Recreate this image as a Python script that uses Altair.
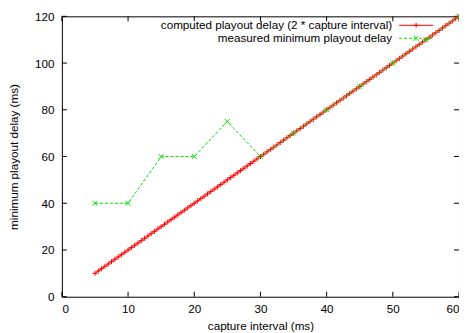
import altair as alt
import pandas as pd

# computed playout delay (2 * capture interval), sampled every 0.5 ms
comp_x = [5.0, 5.5, 6.0, 6.5, 7.0, 7.5, 8.0, 8.5, 9.0, 9.5,
          10.0, 10.5, 11.0, 11.5, 12.0, 12.5, 13.0, 13.5, 14.0, 14.5,
          15.0, 15.5, 16.0, 16.5, 17.0, 17.5, 18.0, 18.5, 19.0, 19.5,
          20.0, 20.5, 21.0, 21.5, 22.0, 22.5, 23.0, 23.5, 24.0, 24.5,
          25.0, 25.5, 26.0, 26.5, 27.0, 27.5, 28.0, 28.5, 29.0, 29.5,
          30.0, 30.5, 31.0, 31.5, 32.0, 32.5, 33.0, 33.5, 34.0, 34.5,
          35.0, 35.5, 36.0, 36.5, 37.0, 37.5, 38.0, 38.5, 39.0, 39.5,
          40.0, 40.5, 41.0, 41.5, 42.0, 42.5, 43.0, 43.5, 44.0, 44.5,
          45.0, 45.5, 46.0, 46.5, 47.0, 47.5, 48.0, 48.5, 49.0, 49.5,
          50.0, 50.5, 51.0, 51.5, 52.0, 52.5, 53.0, 53.5, 54.0, 54.5,
          55.0, 55.5, 56.0, 56.5, 57.0, 57.5, 58.0, 58.5, 59.0, 59.5,
          60.0]
comp_y = [10, 11, 12, 13, 14, 15, 16, 17, 18, 19,
          20, 21, 22, 23, 24, 25, 26, 27, 28, 29,
          30, 31, 32, 33, 34, 35, 36, 37, 38, 39,
          40, 41, 42, 43, 44, 45, 46, 47, 48, 49,
          50, 51, 52, 53, 54, 55, 56, 57, 58, 59,
          60, 61, 62, 63, 64, 65, 66, 67, 68, 69,
          70, 71, 72, 73, 74, 75, 76, 77, 78, 79,
          80, 81, 82, 83, 84, 85, 86, 87, 88, 89,
          90, 91, 92, 93, 94, 95, 96, 97, 98, 99,
          100, 101, 102, 103, 104, 105, 106, 107, 108, 109,
          110, 111, 112, 113, 114, 115, 116, 117, 118, 119,
          120]

# measured minimum playout delay
meas_x = [5, 10, 15, 20, 25, 30, 35, 40, 45, 50, 55, 60]
meas_y = [40, 40, 60, 60, 75, 60, 70, 80, 90, 100, 110, 120]

x_ticks = [0, 10, 20, 30, 40, 50, 60]
y_ticks = [0, 20, 40, 60, 80, 100, 120]

legend_labels = ["computed playout delay (2 * capture interval)",
                 "measured minimum playout delay"]

RED = "#ff0000"
GREEN = "#00e000"
FONT = "Liberation Sans"
W, H = 398, 281
PLUS = "M-1,0L1,0M0,-1L0,1"
XSHAPE = "M-1,-1L1,1M-1,1L1,-1"
FS = 11.7

comp = pd.DataFrame({"x": comp_x, "y": comp_y})
meas = pd.DataFrame({"x": meas_x, "y": meas_y})
xt = pd.DataFrame({"x": x_ticks})
yt = pd.DataFrame({"y": y_ticks})
one = pd.DataFrame({"a": [0]})

xscale = alt.Scale(domain=[0, 60], nice=False, zero=False)
yscale = alt.Scale(domain=[0, 120], nice=False, zero=False)

xaxis = alt.Axis(values=x_ticks, ticks=False, grid=False, domain=False,
                 labelPadding=7, title="capture interval (ms)", titlePadding=5,
                 labelFontSize=FS, titleFontSize=FS, labelFont=FONT, titleFont=FONT,
                 titleFontWeight="normal", labelColor="black", titleColor="black")
yaxis = alt.Axis(values=y_ticks, ticks=False, grid=False, domain=False,
                 labelPadding=8, title="minimum playout delay (ms)", titlePadding=15,
                 labelFontSize=FS, titleFontSize=FS, labelFont=FONT, titleFont=FONT,
                 titleFontWeight="normal", labelColor="black", titleColor="black")

base_x = alt.X("x:Q", scale=xscale, axis=xaxis)
base_y = alt.Y("y:Q", scale=yscale, axis=yaxis)

red_line = alt.Chart(comp).mark_line(color=RED, strokeWidth=1).encode(x=base_x, y=base_y)
red_pts = alt.Chart(comp).mark_point(shape=PLUS, filled=False, color=RED, size=25,
                                     strokeWidth=1, opacity=1).encode(x=base_x, y=base_y)
green_line = alt.Chart(meas).mark_line(color=GREEN, strokeWidth=1, strokeDash=[3, 2]).encode(x=base_x, y=base_y)
green_pts = alt.Chart(meas).mark_point(shape=XSHAPE, filled=False, color=GREEN, size=25,
                                       strokeWidth=1, opacity=1).encode(x=base_x, y=base_y)

tick_bottom = alt.Chart(xt).mark_rule(color="black", strokeWidth=1).encode(
    x=base_x, y=alt.value(H), y2=alt.value(H - 5))
tick_top = alt.Chart(xt).mark_rule(color="black", strokeWidth=1).encode(
    x=base_x, y=alt.value(0), y2=alt.value(5))
tick_left = alt.Chart(yt).mark_rule(color="black", strokeWidth=1).encode(
    y=base_y, x=alt.value(0), x2=alt.value(5))
tick_right = alt.Chart(yt).mark_rule(color="black", strokeWidth=1).encode(
    y=base_y, x=alt.value(W), x2=alt.value(W - 5))

# legend (gnuplot style: text right-aligned, sample to the right)
LX = 331
leg1_text = alt.Chart(one).mark_text(align="right", baseline="middle", fontSize=FS,
                                     font=FONT, color="black").encode(
    x=alt.value(LX), y=alt.value(9), text=alt.value(legend_labels[0]))
leg2_text = alt.Chart(one).mark_text(align="right", baseline="middle", fontSize=FS,
                                     font=FONT, color="black").encode(
    x=alt.value(LX), y=alt.value(22), text=alt.value(legend_labels[1]))
leg1_line = alt.Chart(one).mark_rule(color=RED, strokeWidth=1).encode(
    x=alt.value(338), x2=alt.value(372), y=alt.value(9))
leg1_pt = alt.Chart(one).mark_point(shape=PLUS, filled=False, color=RED, size=25,
                                    strokeWidth=1, opacity=1).encode(
    x=alt.value(355), y=alt.value(9))
leg2_line = alt.Chart(one).mark_rule(color=GREEN, strokeWidth=1, strokeDash=[3, 2]).encode(
    x=alt.value(338), x2=alt.value(372), y=alt.value(22))
leg2_pt = alt.Chart(one).mark_point(shape=XSHAPE, filled=False, color=GREEN, size=25,
                                    strokeWidth=1, opacity=1).encode(
    x=alt.value(355), y=alt.value(22))

chart = alt.layer(
    tick_bottom, tick_top, tick_left, tick_right,
    red_line, red_pts, green_line, green_pts,
    leg1_text, leg2_text, leg1_line, leg1_pt, leg2_line, leg2_pt,
).properties(
    width=W, height=H,
    background="white",
    autosize=alt.AutoSizeParams(type="none"),
    padding={"left": 54, "top": 8, "right": 0, "bottom": 36},
).configure_view(
    stroke="black", strokeWidth=1
)

chart.save("out.html", embed_options={"renderer": "svg", "actions": False})
